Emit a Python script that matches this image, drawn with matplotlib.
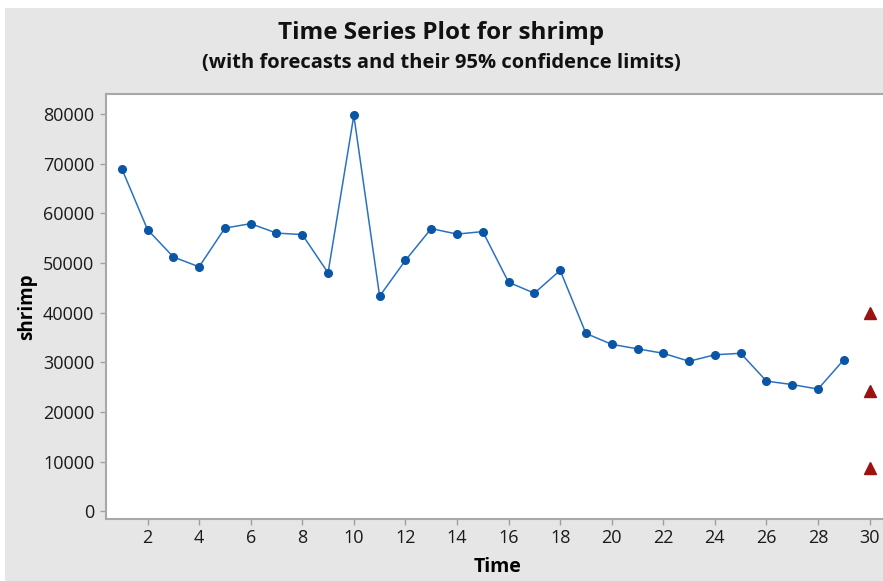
import numpy as np
import matplotlib.pyplot as plt
from matplotlib.patches import Rectangle

plt.rcParams['font.family'] = ['Open Sans', 'DejaVu Sans']

time = list(range(1, 30))
shrimp = [69000, 56700, 51200, 49200, 57000, 57900, 56000, 55700, 48000, 79700,
          43300, 50500, 56900, 55800, 56300, 46100, 43900, 48500, 35800, 33600,
          32700, 31800, 30200, 31500, 31800, 26200, 25500, 24600, 30500]
forecast_time = [30, 30, 30]
forecast_vals = [40000, 24200, 8700]  # upper, forecast, lower

W, H = 883, 581
fig = plt.figure(figsize=(W / 100, H / 100), dpi=100, facecolor='white')
fig.patches.append(Rectangle((5 / W, 0), 1, 1 - 8 / H, transform=fig.transFigure,
                             facecolor='#e6e6e6', edgecolor='none', zorder=-1))

left, right, bottom, top = 106, 890, 518.7, 94
ax = fig.add_axes([left / W, 1 - bottom / H, (right - left) / W, (bottom - top) / H])
ax.set_facecolor('white')

ax.plot(time, shrimp, color='#2a72c0', lw=1.1, marker='o', ms=5.5,
        mfc='#0a55a5', mec='#0a55a5', zorder=3)
ax.plot(forecast_time, forecast_vals, ls='none', marker='^', ms=8,
        color='#9c1212', zorder=3)

ax.set_xlim(0.39, 30.79)
ax.set_ylim(-1500, 84000)
ax.set_xticks(range(2, 31, 2))
ax.set_yticks(range(0, 80001, 10000))

for s in ax.spines.values():
    s.set_color('#a8a8a8')
    s.set_linewidth(1.5)
ax.tick_params(axis='both', direction='out', length=4, width=1, color='#a0a0a0',
               labelsize=13, labelcolor='#1a1a1a')
ax.tick_params(axis='y', pad=4.5)

ax.set_xlabel('Time', fontsize=14, fontweight='bold', labelpad=7)
ax.set_ylabel('shrimp', fontsize=13.5, fontweight='bold', labelpad=4)

fig.text(0.5, 1 - 33 / H, 'Time Series Plot for shrimp', ha='center', va='center',
         fontsize=17.5, fontweight='bold', color='#111111')
fig.text(0.5, 1 - 63 / H, '(with forecasts and their 95% confidence limits)',
         ha='center', va='center', fontsize=14.5, fontweight='bold', color='#111111')

fig.savefig('out.png', dpi=100, facecolor=fig.get_facecolor())
